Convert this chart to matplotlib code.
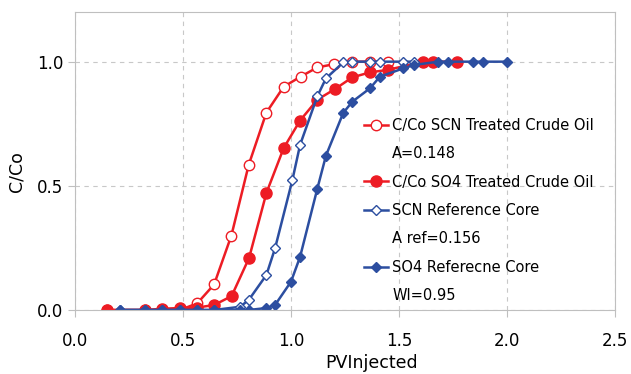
import matplotlib.pyplot as plt

# breakthrough curves
pv_scn_oil = [0.148, 0.324, 0.404, 0.486, 0.566, 0.644, 0.724, 0.804, 0.886, 0.966,
              1.045, 1.122, 1.200, 1.284, 1.366, 1.448]
c_scn_oil = [0.0, 0.0, 0.0, 0.0, 0.027, 0.103, 0.300, 0.584, 0.795, 0.899,
             0.940, 0.977, 0.990, 1.0, 1.0, 1.0]

pv_so4_oil = [0.148, 0.324, 0.404, 0.486, 0.566, 0.644, 0.725, 0.806, 0.886, 0.966,
              1.042, 1.122, 1.204, 1.284, 1.366, 1.448, 1.612, 1.659, 1.767]
c_so4_oil = [0.0, 0.0, 0.005, 0.008, 0.01, 0.02, 0.056, 0.210, 0.471, 0.652,
             0.763, 0.847, 0.890, 0.937, 0.957, 0.967, 1.0, 1.0, 1.0]

pv_scn_ref = [0.208, 0.324, 0.404, 0.486, 0.563, 0.644, 0.764, 0.804, 0.886, 0.926,
              1.006, 1.042, 1.122, 1.162, 1.242, 1.284, 1.366, 1.412, 1.520, 1.571]
c_scn_ref = [0.0, 0.0, 0.0, 0.0, 0.0, 0.0, 0.013, 0.04, 0.141, 0.248,
             0.522, 0.665, 0.861, 0.933, 0.997, 1.0, 1.0, 1.0, 1.0, 1.0]

pv_so4_ref = [0.208, 0.324, 0.404, 0.486, 0.563, 0.644, 0.764, 0.804, 0.886, 0.926,
              1.0, 1.042, 1.122, 1.162, 1.242, 1.284, 1.366, 1.412, 1.520, 1.571,
              1.682, 1.728, 1.844, 1.891, 2.001]
c_so4_ref = [0.0, 0.0, 0.0, 0.0, 0.0, 0.0, 0.0, 0.0, 0.008, 0.02,
             0.114, 0.214, 0.489, 0.622, 0.794, 0.839, 0.893, 0.940, 0.973, 0.987,
             1.0, 1.0, 1.0, 1.0, 1.0]

red = '#ED1C24'
blue = '#2C4EA0'

fig = plt.figure(figsize=(6.31, 3.74), dpi=100)
ax = fig.add_axes([0.1189, 0.1711, 0.8557, 0.7968])

ax.plot(pv_scn_oil, c_scn_oil, '-o', color=red, lw=1.8, ms=7.5, mfc='white',
        mec=red, mew=1.0, label='C/Co SCN Treated Crude Oil')
ax.plot([], [], ' ', label='A=0.148')
ax.plot(pv_so4_oil, c_so4_oil, '-o', color=red, lw=1.8, ms=8, mfc=red, mec=red,
        label='C/Co SO4 Treated Crude Oil')
ax.plot(pv_scn_ref, c_scn_ref, '-D', color=blue, lw=1.8, ms=5.5, mfc='white',
        mec=blue, mew=1.0, label='SCN Reference Core')
ax.plot([], [], ' ', label='A ref=0.156')
ax.plot(pv_so4_ref, c_so4_ref, '-D', color=blue, lw=1.8, ms=5.5, mfc=blue, mec=blue,
        label='SO4 Referecne Core')
ax.plot([], [], ' ', label='WI=0.95')

ax.set_xlim(0, 2.5)
ax.set_ylim(0, 1.2)
ax.set_xticks([0.0, 0.5, 1.0, 1.5, 2.0, 2.5])
ax.set_yticks([0.0, 0.5, 1.0])
ax.set_xticklabels(['0.0', '0.5', '1.0', '1.5', '2.0', '2.5'])
ax.set_yticklabels(['0.0', '0.5', '1.0'])
ax.tick_params(labelsize=12, color='#BFBFBF', length=5, direction='out')
ax.tick_params(axis='x', pad=11)
ax.grid(True, ls=(0, (4, 4)), color='#C8C8C8', lw=0.8)
for s in ax.spines.values():
    s.set_color('#BFBFBF')
    s.set_linewidth(0.8)

ax.set_xlabel('PVInjected', fontsize=12.5)
ax.set_ylabel('C/Co', fontsize=12.5)
ax.xaxis.set_label_coords(0.55, -0.148)
ax.yaxis.set_label_coords(-0.092, 0.463)

ax.legend(loc='upper left', bbox_to_anchor=(0.525, 0.665), frameon=False,
          fontsize=10.5, handlelength=1.6, handletextpad=0.3, labelspacing=0.92,
          borderaxespad=0)

plt.savefig('out.png', dpi=100)
